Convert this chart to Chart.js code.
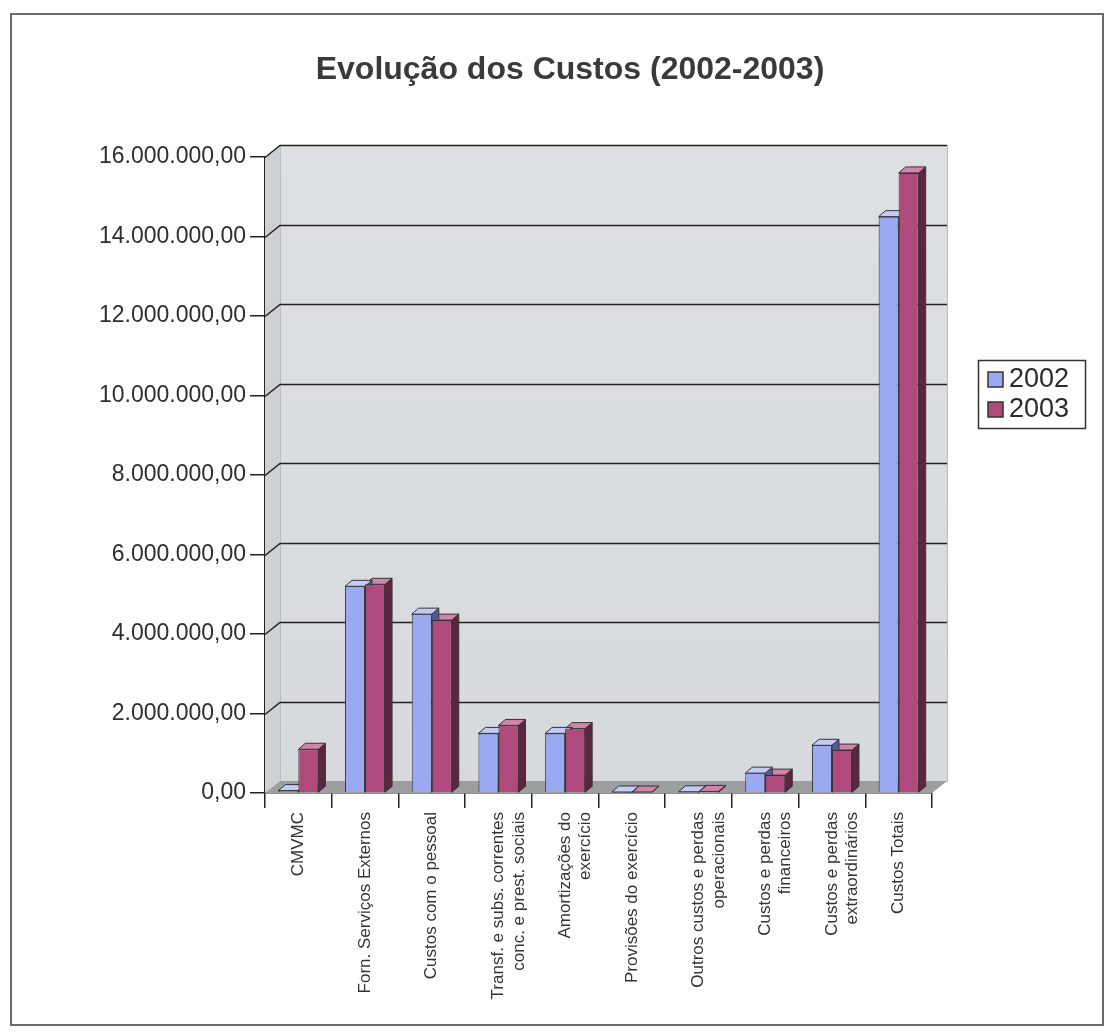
<!DOCTYPE html>
<html>
<head>
<meta charset="utf-8">
<script src="https://cdn.jsdelivr.net/npm/chart.js@4/dist/chart.umd.min.js"></script>
<style>
  html, body { margin: 0; padding: 0; background: #ffffff; }
  #wrap { position: relative; width: 1104px; height: 1035px; }
</style>
</head>
<body>
<div id="wrap"><canvas id="c" width="1104" height="1035"></canvas></div>
<script>
const titleText = "Evolução dos Custos (2002-2003)";
const categories = [
  ["CMVMC"],
  ["Forn. Serviços Externos"],
  ["Custos com o pessoal"],
  ["Transf. e subs. correntes", "conc. e prest. sociais"],
  ["Amortizações do", "exercício"],
  ["Provisões do exercício"],
  ["Outros custos e perdas", "operacionais"],
  ["Custos e perdas", "financeiros"],
  ["Custos e perdas", "extraordinários"],
  ["Custos Totais"]
];
const seriesNames = ["2002", "2003"];
const values2002 = [60000, 5200000, 4500000, 1500000, 1500000, 25000, 30000, 500000, 1200000, 14500000];
const values2003 = [1100000, 5250000, 4350000, 1700000, 1620000, 25000, 40000, 450000, 1080000, 15600000];
const yMin = 0;
const yMax = 16000000;
const yStep = 2000000;

const FONT = '"Liberation Sans", Arial, sans-serif';
const colors = {
  front: ['#9aa9f2', '#b04a7c'],
  side:  ['#4f5c9c', '#5c2542'],
  top:   ['#c3cbf8', '#d384a8']
};

function fmt(v) {
  const s = Math.round(v).toString().replace(/\B(?=(\d{3})+(?!\d))/g, '.');
  return s + ',00';
}

const DX = 15, DY = 12;   // depth of plot walls
const BX = 7, BY = 6;     // depth of bars

const threeD = {
  id: 'threeD',
  beforeDraw(chart) {
    const ctx = chart.ctx;
    ctx.save();
    ctx.fillStyle = '#ffffff';
    ctx.fillRect(0, 0, chart.width, chart.height);
    ctx.strokeStyle = '#6b6b6b';
    ctx.lineWidth = 2;
    ctx.strokeRect(11, 14, 1092, 1011);
    // title
    ctx.fillStyle = '#3a3a3a';
    ctx.font = 'bold 32px ' + FONT;
    ctx.textAlign = 'center';
    ctx.textBaseline = 'middle';
    ctx.fillText(titleText, 570, 70);
    ctx.restore();
  },
  beforeDatasetsDraw(chart) {
    const { ctx, chartArea: { left, right, top, bottom }, scales: { y } } = chart;
    ctx.save();
    // left side wall
    ctx.fillStyle = '#cdd1d4';
    ctx.beginPath();
    ctx.moveTo(left, top); ctx.lineTo(left + DX, top - DY);
    ctx.lineTo(left + DX, bottom - DY); ctx.lineTo(left, bottom); ctx.closePath();
    ctx.fill();
    // back wall
    const g = ctx.createLinearGradient(0, top - DY, 0, bottom - DY);
    g.addColorStop(0, '#dde0e2'); g.addColorStop(1, '#d6dadd');
    ctx.fillStyle = g;
    ctx.fillRect(left + DX, top - DY, right - left, bottom - top);
    ctx.strokeStyle = '#b9bdc0';
    ctx.lineWidth = 1;
    ctx.strokeRect(left + DX + 0.5, top - DY + 0.5, right - left, bottom - top);
    // floor
    ctx.fillStyle = '#9c9ea0';
    ctx.beginPath();
    ctx.moveTo(left, bottom); ctx.lineTo(left + DX, bottom - DY);
    ctx.lineTo(right + DX, bottom - DY); ctx.lineTo(right, bottom); ctx.closePath();
    ctx.fill();
    // gridlines on side wall + back wall
    ctx.strokeStyle = '#222222';
    ctx.lineWidth = 1.5;
    y.ticks.forEach(t => {
      if (t.value === 0) return;
      const py = Math.round(y.getPixelForValue(t.value)) + 0.5;
      ctx.beginPath();
      ctx.moveTo(left, py);
      ctx.lineTo(left + DX, py - DY);
      ctx.lineTo(right + DX, py - DY);
      ctx.stroke();
    });
    // bar side and top faces
    for (let di = chart.data.datasets.length - 1; di >= 0; di--) {
      const meta = chart.getDatasetMeta(di);
      meta.data.forEach(bar => {
        const p = bar.getProps(['x', 'y', 'base', 'width'], true);
        const l = p.x - p.width / 2, r = p.x + p.width / 2;
        const t = Math.min(p.y, p.base), b = Math.max(p.y, p.base);
        ctx.lineWidth = 1;
        ctx.strokeStyle = '#333333';
        ctx.fillStyle = colors.side[di];
        ctx.beginPath();
        ctx.moveTo(r, t); ctx.lineTo(r + BX, t - BY);
        ctx.lineTo(r + BX, b - BY); ctx.lineTo(r, b); ctx.closePath();
        ctx.fill(); ctx.stroke();
        ctx.fillStyle = colors.top[di];
        ctx.beginPath();
        ctx.moveTo(l, t); ctx.lineTo(l + BX, t - BY);
        ctx.lineTo(r + BX, t - BY); ctx.lineTo(r, t); ctx.closePath();
        ctx.fill(); ctx.stroke();
      });
    }
    ctx.restore();
  },
  afterDraw(chart) {
    const ctx = chart.ctx;
    ctx.save();
    // legend box
    const lx = 978, ly = 360, lw = 107, lh = 68;
    ctx.fillStyle = '#ffffff';
    ctx.fillRect(lx, ly, lw, lh);
    ctx.strokeStyle = '#333333';
    ctx.lineWidth = 1.5;
    ctx.strokeRect(lx + 0.5, ly + 0.5, lw, lh);
    ctx.font = '27px ' + FONT;
    ctx.textBaseline = 'middle';
    ctx.textAlign = 'left';
    chart.data.datasets.forEach((ds, i) => {
      const cy = ly + 19 + i * 30;
      ctx.fillStyle = ds.backgroundColor;
      ctx.fillRect(lx + 10, cy - 7, 15, 15);
      ctx.strokeStyle = '#333333';
      ctx.lineWidth = 1.5;
      ctx.strokeRect(lx + 10, cy - 7, 15, 15);
      ctx.fillStyle = '#2b2b2b';
      ctx.fillText(ds.label, lx + 31, cy + 1);
    });
    ctx.restore();
  }
};

new Chart(document.getElementById('c'), {
  type: 'bar',
  data: {
    labels: categories,
    datasets: [
      { label: seriesNames[0], data: values2002, backgroundColor: colors.front[0], borderColor: '#333333', borderWidth: 1 },
      { label: seriesNames[1], data: values2003, backgroundColor: colors.front[1], borderColor: '#333333', borderWidth: 1 }
    ]
  },
  options: {
    responsive: false,
    animation: false,
    events: [],
    layout: { padding: { left: 10, right: 172, top: 157, bottom: 10 } },
    datasets: { bar: { categoryPercentage: 0.6, barPercentage: 1.0 } },
    plugins: {
      legend: { display: false },
      tooltip: { enabled: false },
      title: { display: false }
    },
    scales: {
      y: {
        min: yMin, max: yMax,
        ticks: {
          stepSize: yStep,
          color: '#2e2e2e',
          font: { family: FONT, size: 23 },
          padding: 4,
          callback: v => fmt(v)
        },
        grid: { display: true, drawOnChartArea: false, drawTicks: true, tickLength: 15, color: '#222222', lineWidth: 1.5 },
        border: { display: true, color: '#222222', width: 1.5 },
        afterFit: s => { s.width = 255; }
      },
      x: {
        ticks: {
          color: '#333333',
          font: { family: FONT, size: 17 },
          minRotation: 90, maxRotation: 90,
          autoSkip: false,
          padding: 4
        },
        grid: { display: true, offset: true, drawOnChartArea: false, drawTicks: true, tickLength: 15, color: '#222222', lineWidth: 1.5 },
        border: { display: true, color: '#222222', width: 1.5 },
        afterFit: s => { s.height = 232; }
      }
    }
  },
  plugins: [threeD]
});
</script>
</body>
</html>
